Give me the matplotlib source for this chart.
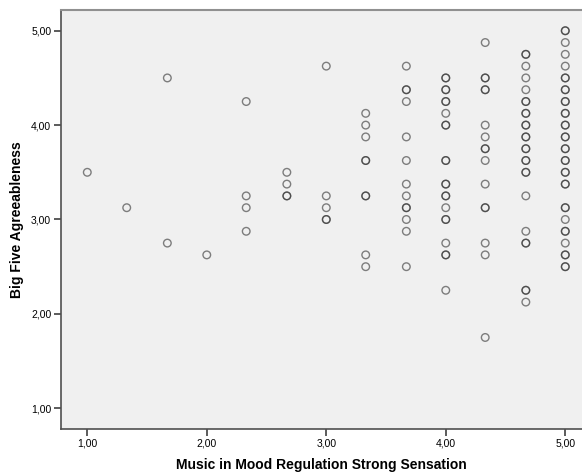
import matplotlib.pyplot as plt

plt.rcParams['font.family'] = ['Liberation Sans', 'DejaVu Sans']

# each point listed once; overlapping responses repeated so they print darker
col_x = [1.00, 1.33, 1.67, 2.00, 2.33, 2.67, 3.00, 3.33, 3.67, 4.00, 4.33, 4.67, 5.00]
col_y = [
    [3.5],
    [3.125],
    [4.5, 2.75],
    [2.625],
    [4.25, 3.25, 3.125, 2.875],
    [3.5, 3.375, 3.25, 3.25],
    [4.625, 3.25, 3.125, 3.0, 3.0],
    [4.125, 4.0, 3.875, 3.625, 3.625, 3.25, 3.25, 2.625, 2.5],
    [4.625, 4.375, 4.375, 4.25, 3.875, 3.625, 3.375, 3.25, 3.125, 3.125,
     3.0, 2.875, 2.5],
    [4.5, 4.5, 4.375, 4.375, 4.25, 4.25, 4.125, 4.0, 4.0, 3.625, 3.625,
     3.375, 3.375, 3.25, 3.25, 3.125, 3.0, 3.0, 2.75, 2.625, 2.625, 2.25],
    [4.875, 4.5, 4.5, 4.375, 4.375, 4.0, 3.875, 3.75, 3.75, 3.625, 3.375,
     3.125, 3.125, 2.75, 2.625, 1.75],
    [4.75, 4.75, 4.625, 4.5, 4.375, 4.25, 4.25, 4.125, 4.125, 4.0, 4.0,
     3.875, 3.875, 3.75, 3.75, 3.625, 3.625, 3.5, 3.5, 3.25, 2.875,
     2.75, 2.75, 2.25, 2.25, 2.125],
    [5.0, 5.0, 4.875, 4.75, 4.625, 4.5, 4.5, 4.375, 4.375, 4.25, 4.25,
     4.125, 4.125, 4.0, 4.0, 3.875, 3.875, 3.75, 3.75, 3.625, 3.625,
     3.5, 3.5, 3.375, 3.375, 3.125, 3.125, 3.0, 2.875, 2.875, 2.75,
     2.625, 2.625, 2.5, 2.5],
]

xs = []
ys = []
for x, yl in zip(col_x, col_y):
    for y in yl:
        xs.append(x)
        ys.append(y)

tick_vals = [1, 2, 3, 4, 5]
tick_labels = ['1,00', '2,00', '3,00', '4,00', '5,00']

fig = plt.figure(figsize=(5.82, 4.73), dpi=100)
ax = fig.add_axes([0.1048, 0.0930, 0.8952, 0.8859])
ax.set_facecolor('#f0f0f0')

ax.scatter(xs, ys, s=30, facecolors='none', edgecolors='#303030',
           linewidths=1.0, alpha=0.6, zorder=3)

ax.set_xlim(0.78, 5.14)
ax.set_ylim(0.78, 5.22)
ax.set_xticks(tick_vals)
ax.set_xticklabels(tick_labels)
ax.set_yticks(tick_vals)
ax.set_yticklabels(tick_labels)
ax.tick_params(direction='out', length=5, width=1.2, color='#404040',
               labelsize=7.5, pad=2)

ax.spines['right'].set_visible(False)
ax.spines['top'].set_color('#909090')
ax.spines['top'].set_linewidth(1.5)
ax.spines['left'].set_color('#505050')
ax.spines['bottom'].set_color('#505050')
ax.spines['left'].set_linewidth(1.2)
ax.spines['bottom'].set_linewidth(1.2)

ax.set_xlabel('Music in Mood Regulation Strong Sensation', fontsize=10,
              fontweight='bold', labelpad=7)
ax.set_ylabel('Big Five Agreeableness', fontsize=10, fontweight='bold',
              labelpad=5)

fig.savefig('out.png', dpi=100)
